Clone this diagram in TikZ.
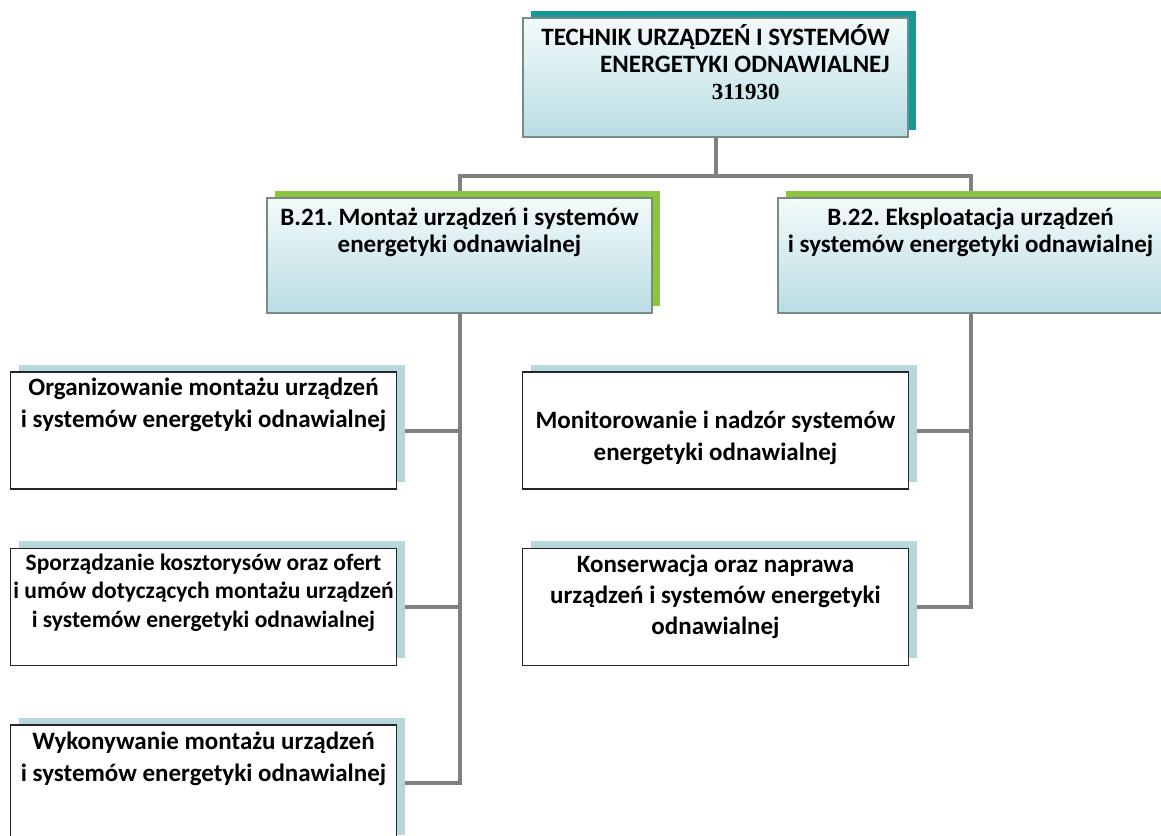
\documentclass[tikz,border=0pt]{standalone}
\usepackage{fontspec}
\setmainfont{Carlito}
\newfontfamily\numfont{Liberation Serif}
\usepackage{tikz}
\usetikzlibrary{positioning, shadows, backgrounds}
\usepackage{xcolor}
\definecolor{TealShadow}{RGB}{22,152,148}
\definecolor{LeafGreen}{RGB}{140,198,63}
\definecolor{PaleBlue}{RGB}{183,215,220}
\definecolor{IceTop}{RGB}{244,250,250}
\definecolor{IceBottom}{RGB}{184,221,228}
\definecolor{FrameGray}{RGB}{120,138,138}
\definecolor{LineGray}{RGB}{128,128,128}
\frenchspacing

\begin{document}
\begin{tikzpicture}[x=0.5pt, y=-0.5pt,
          head/.style={rectangle, draw=FrameGray, top color=IceTop, bottom color=IceBottom, line width=0.6pt, minimum width=192.5pt, inner xsep=2pt, inner ysep=2pt, align=center, font=\fontsize{12.5}{13.5}\selectfont\bfseries},
          title/.style={head, drop shadow={shadow xshift=4pt, shadow yshift=3.5pt, fill=TealShadow, opacity=1}, minimum height=59.5pt, align=right, text depth=15pt},
          module/.style={head, drop shadow={shadow xshift=4pt, shadow yshift=3.5pt, fill=LeafGreen, opacity=1}, minimum height=57.5pt, text depth=25pt},
          task/.style={rectangle, draw=black!85, fill=white, line width=0.7pt, minimum width=193pt, minimum height=58.5pt, inner xsep=1pt, inner ysep=1pt, align=center, font=\fontsize{12.5}{16}\selectfont\bfseries, drop shadow={shadow xshift=4pt, shadow yshift=3.5pt, fill=PaleBlue, opacity=1}},
          conn/.style={draw=LineGray, line width=2pt}
        ]
          \clip (0,0) rectangle (1161,835);
          \node (top) [title] at (715.5,77.5) {TECHNIK URZĄDZEŃ I SYSTEMÓW\\ENERGETYKI ODNAWIALNEJ\\{\numfont\fontsize{11.5}{13}\selectfont 311930}\kern55pt};
          \node (b21) [module] at (459.5,255.5) {B.21. Montaż urządzeń i systemów\\energetyki odnawialnej};
          \node (b22) [module] at (970.5,255.5) {B.22. Eksploatacja urządzeń\\i systemów energetyki odnawialnej};

          \node (org) [task, text depth=28pt] at (203.5,430.5) {Organizowanie montażu urządzeń\\i systemów energetyki odnawialnej};
          \node (kosz) [task, text depth=16.5pt, font=\fontsize{11.75}{14.25}\selectfont\bfseries, below=29pt of org] {Sporządzanie kosztorysów oraz ofert\\i umów dotyczących montażu urządzeń\\i systemów energetyki odnawialnej};
          \node (wyk) [task, text depth=27pt, below=29pt of kosz] {Wykonywanie montażu urządzeń\\i systemów energetyki odnawialnej};

          \node (mon) [task, text height=32.5pt] at (715.5,430.5) {Monitorowanie i nadzór systemów\\energetyki odnawialnej};
          \node (kons) [task, text depth=12pt, font=\fontsize{12.5}{15.5}\selectfont\bfseries, below=29pt of mon] {Konserwacja oraz naprawa\\urządzeń i systemów energetyki\\odnawialnej};

          \begin{scope}[on background layer]
            \draw [conn] (top.south) -- ++(0,38) -| (b21.north);
            \draw [conn] (top.south) -- ++(0,38) -| (b22.north);
            \foreach \n in {org, kosz, wyk} \draw [conn] (b21.south) |- (\n.east);
            \foreach \n in {mon, kons} \draw [conn] (b22.south) |- (\n.east);
          \end{scope}
        \end{tikzpicture}
\end{document}
